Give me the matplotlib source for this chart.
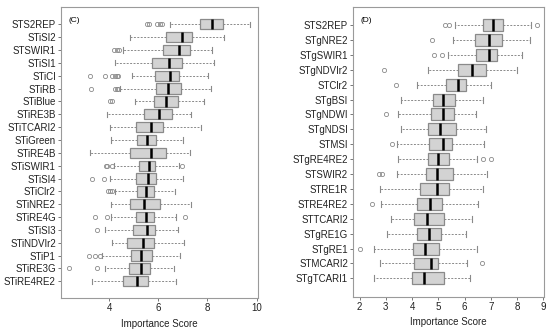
import matplotlib
matplotlib.use("Agg")
import matplotlib.pyplot as plt
import numpy as np

plt.rcParams['font.family'] = ['Liberation Sans', 'DejaVu Sans']

# Panel C (top to bottom)
labels_c = ['STS2REP', 'STiSI2', 'STSWIR1', 'STiSI1', 'STiCI', 'STiRB', 'STiBlue',
            'STiRE3B', 'STiTCARI2', 'STiGreen', 'STiRE4B', 'STiSWIR1', 'STiSI4',
            'STiClr2', 'STiNRE2', 'STiRE4G', 'STiSI3', 'STiNDVIr2', 'STiP1',
            'STiRE3G', 'STiRE4RE2']
whislo_c = [6.48, 4.84, 4.57, 4.24, 4.91, 4.45, 5.03, 3.90, 4.01, 4.05, 3.20, 4.20,
            4.03, 4.23, 4.07, 4.05, 3.82, 4.10, 3.69, 3.82, 3.28]
q1_c = [7.70, 6.30, 6.18, 5.74, 5.88, 5.92, 5.81, 5.43, 5.10, 5.13, 4.86, 5.20,
        5.07, 5.14, 4.86, 5.09, 4.95, 4.73, 4.90, 4.82, 4.54]
med_c = [8.18, 6.98, 6.84, 6.45, 6.48, 6.38, 6.30, 6.01, 5.70, 5.54, 5.70, 5.62,
         5.58, 5.50, 5.40, 5.50, 5.52, 5.36, 5.31, 5.29, 5.13]
q3_c = [8.63, 7.37, 7.28, 6.97, 6.86, 6.93, 6.80, 6.56, 6.18, 5.92, 6.29, 5.88,
        5.92, 5.82, 6.08, 5.82, 5.86, 5.82, 5.73, 5.67, 5.56]
whishi_c = [9.74, 8.68, 8.18, 8.26, 8.01, 8.16, 7.86, 7.31, 7.73, 7.01, 7.28, 6.84,
            7.01, 6.68, 7.32, 6.72, 6.79, 7.05, 6.88, 6.64, 6.71]
fliers_c = [[5.53, 5.63, 5.96, 6.07, 6.16], [], [4.2, 4.3, 4.4], [],
            [3.21, 3.84, 4.12, 4.22, 4.30, 4.36], [3.25, 4.23, 4.30, 4.37],
            [4.03, 4.11], [], [], [], [], [3.86, 3.92, 4.10, 6.95],
            [3.31, 3.78], [3.96, 4.03, 4.10], [], [3.40, 3.89, 7.09], [3.48],
            [], [3.16, 3.40, 3.62], [2.34, 3.51], []]

# Panel D (top to bottom)
labels_d = ['STS2REP', 'STgNRE2', 'STgSWIR1', 'STgNDVIr2', 'STClr2', 'STgBSI',
            'STgNDWI', 'STgNDSI', 'STMSI', 'STgRE4RE2', 'STSWIR2', 'STRE1R',
            'STRE4RE2', 'STTCARI2', 'STgRE1G', 'STgRE1', 'STMCARI2', 'STgTCARI1']
whislo_d = [5.64, 5.55, 5.37, 4.60, 4.19, 3.59, 3.45, 3.59, 3.42, 3.45, 3.44, 2.79,
            2.83, 3.21, 3.05, 2.56, 2.79, 2.53]
q1_d = [6.69, 6.40, 6.44, 5.74, 5.31, 4.81, 4.71, 4.62, 4.66, 4.60, 4.52, 4.30,
        4.18, 4.09, 4.19, 4.02, 4.07, 4.00]
med_d = [7.09, 6.92, 6.92, 6.30, 5.74, 5.19, 5.19, 5.07, 5.17, 4.97, 4.96, 4.94,
         4.68, 4.57, 4.63, 4.48, 4.72, 4.44]
q3_d = [7.46, 7.42, 7.24, 6.80, 6.06, 5.64, 5.60, 5.69, 5.52, 5.41, 5.57, 5.42,
        5.14, 5.21, 5.11, 5.04, 5.00, 5.23]
whishi_d = [8.53, 8.49, 8.21, 8.01, 7.00, 6.69, 6.45, 6.81, 6.75, 6.49, 6.85, 6.72,
            6.53, 6.27, 6.06, 6.47, 6.11, 6.20]
fliers_d = [[5.24, 5.42, 8.77], [4.75], [4.85, 5.16], [2.93], [3.40], [], [2.99],
            [], [3.23], [6.72, 7.00], [2.75, 2.84], [], [2.47], [], [], [2.01],
            [6.67], []]

fig = plt.figure(figsize=(5.5, 3.32), dpi=100)
ax_c = fig.add_axes([0.1109, 0.1024, 0.3582, 0.8765])
ax_d = fig.add_axes([0.6424, 0.1063, 0.3467, 0.8717])


def draw(ax, labels, wlo, q1, med, q3, whi, fl):
    n = len(labels)
    stats = []
    for i in range(n):
        stats.append(dict(whislo=wlo[i], q1=q1[i], med=med[i], q3=q3[i],
                          whishi=whi[i], fliers=fl[i]))
    pos = np.arange(n, 0, -1)
    ax.bxp(stats, positions=pos, vert=False, widths=0.8, patch_artist=True,
           boxprops=dict(facecolor='#d3d3d3', edgecolor='#8a8a8a', linewidth=0.9),
           medianprops=dict(color='black', linewidth=1.8),
           whiskerprops=dict(color='#8a8a8a', linewidth=0.7, linestyle=(0, (2, 1.5))),
           capprops=dict(color='#8a8a8a', linewidth=0.8),
           capwidths=0.4,
           flierprops=dict(marker='o', markersize=3, markerfacecolor='none',
                           markeredgecolor='#8a8a8a', markeredgewidth=0.6))
    ax.set_yticks(pos)
    ax.set_yticklabels(labels, fontsize=7, color='#222222')
    for s in ax.spines.values():
        s.set_color('#9a9a9a')
        s.set_linewidth(0.8)
    ax.tick_params(axis='both', colors='#777777', length=2.2, width=0.7,
                   labelcolor='#222222', labelsize=7, pad=1.5)
    ax.set_xlabel('Importance Score', fontsize=7, color='#222222', labelpad=4)


draw(ax_c, labels_c, whislo_c, q1_c, med_c, q3_c, whishi_c, fliers_c)
ax_c.set_xlim(2.03, 10.06)
ax_c.set_ylim(-0.3, 22.35)
ax_c.set_xticks([4, 6, 8, 10])
ax_c.text(0.04, 0.965, '(C)', transform=ax_c.transAxes, fontsize=6, va='top')

draw(ax_d, labels_d, whislo_d, q1_d, med_d, q3_d, whishi_d, fliers_d)
ax_d.set_xlim(1.76, 9.03)
ax_d.set_ylim(-0.23, 19.19)
ax_d.set_xticks([2, 3, 4, 5, 6, 7, 8, 9])
ax_d.text(0.04, 0.965, '(D)', transform=ax_d.transAxes, fontsize=6, va='top')

fig.savefig('out.png', dpi=100)
